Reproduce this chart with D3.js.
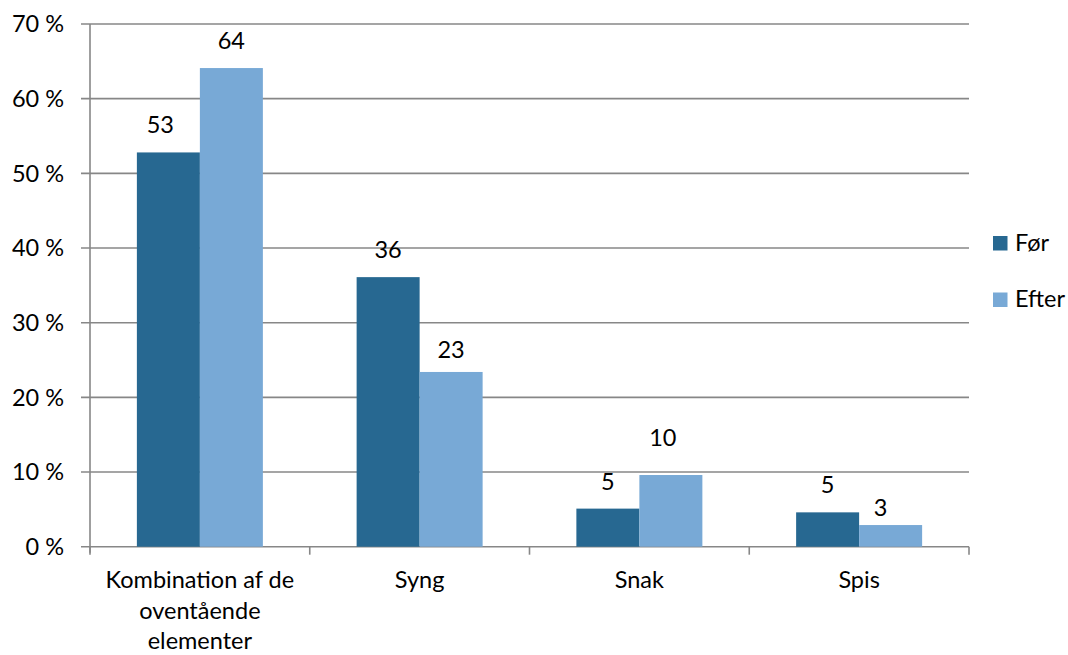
<!DOCTYPE html>
<html><head><meta charset="utf-8">
<script src="https://cdn.jsdelivr.net/npm/d3@7"></script>
<style>
html,body{margin:0;padding:0;background:#fff;}
svg text{font-family:Lato,"Noto Sans",sans-serif;fill:#000;}
</style></head>
<body>
<svg id="c" width="1068" height="655"></svg>
<script>
const categories = ["Kombination af de oventående elementer", "Syng", "Snak", "Spis"];
const categoryLines = [["Kombination af de", "oventående", "elementer"], ["Syng"], ["Snak"], ["Spis"]];
const seriesNames = ["Før", "Efter"];
const forValues = [52.8, 36.1, 5.1, 4.6];
const efterValues = [64.1, 23.4, 9.6, 2.9];
const yTicks = [0, 10, 20, 30, 40, 50, 60, 70];
const yTickLabels = ["0 %", "10 %", "20 %", "30 %", "40 %", "50 %", "60 %", "70 %"];

// label nudges (layout only): [dx, dy] per series per category
const nudgeFor = [[-8, 0], [0, 0], [0, 0], [0, 0]];
const nudgeEfter = [[0, 0], [0, 5], [-8, -10], [-10, 9.5]];

const colors = {"Før": "#276891", "Efter": "#78A9D6"};
const FS = 23.5;

const svg = d3.select("#c");
const L = 90, R = 969, T = 24, B = 546.7;

const x0 = d3.scaleBand().domain(categories).range([L, R]).paddingInner(0).paddingOuter(0);
const groupW = 126;
const x1 = d3.scaleBand().domain(seriesNames).range([0, groupW]);
const y = d3.scaleLinear().domain([0, 70]).range([B, T]);

// gridlines
svg.append("g").selectAll("line").data(yTicks).join("line")
  .attr("x1", L - 9).attr("x2", R)
  .attr("y1", d => y(d)).attr("y2", d => y(d))
  .attr("stroke", "#878787").attr("stroke-width", 1.6);

// y axis line
svg.append("line").attr("x1", L).attr("x2", L).attr("y1", T).attr("y2", B + 6)
  .attr("stroke", "#878787").attr("stroke-width", 1.6);

// category boundary ticks
const bounds = categories.map(c => x0(c)).concat([R]);
svg.append("g").selectAll("line").data(bounds).join("line")
  .attr("x1", d => d).attr("x2", d => d).attr("y1", B).attr("y2", B + 8)
  .attr("stroke", "#878787").attr("stroke-width", 1.6);

// y tick labels
svg.append("g").selectAll("text").data(yTicks).join("text")
  .attr("x", 64).attr("y", d => y(d) + 8.3)
  .attr("text-anchor", "end").attr("font-size", FS)
  .text((d, i) => yTickLabels[i]);

// bars
const rows = categories.map((c, i) => ({c, i, vals: [forValues[i], efterValues[i]]}));
const gx = c => x0(c) + (x0.bandwidth() - groupW) / 2;
const grp = svg.append("g").selectAll("g").data(rows).join("g")
  .attr("transform", d => `translate(${gx(d.c)},0)`);
grp.selectAll("rect").data(d => seriesNames.map((s, k) => ({s, v: d.vals[k], i: d.i}))).join("rect")
  .attr("x", d => x1(d.s)).attr("width", x1.bandwidth())
  .attr("y", d => y(d.v)).attr("height", d => B - y(d.v))
  .attr("fill", d => colors[d.s]);
grp.selectAll("text").data(d => seriesNames.map((s, k) => ({s, v: d.vals[k], i: d.i}))).join("text")
  .attr("x", d => x1(d.s) + x1.bandwidth() / 2 + (d.s === "Før" ? nudgeFor : nudgeEfter)[d.i][0])
  .attr("y", d => y(d.v) - 19 + (d.s === "Før" ? nudgeFor : nudgeEfter)[d.i][1])
  .attr("text-anchor", "middle").attr("font-size", FS)
  .text(d => d3.format(".0f")(d.v));

// category labels
const cl = svg.append("g").selectAll("text").data(categories).join("text")
  .attr("x", c => x0(c) + x0.bandwidth() / 2)
  .attr("y", 588)
  .attr("text-anchor", "middle").attr("font-size", FS);
cl.selectAll("tspan").data((c, i) => categoryLines[i]).join("tspan")
  .attr("x", function(){ return d3.select(this.parentNode).attr("x"); })
  .attr("dy", (d, i) => i === 0 ? 0 : 30.5)
  .text(d => d);

// legend
const lg = svg.append("g").selectAll("g").data(seriesNames).join("g")
  .attr("transform", (d, i) => `translate(993,${236 + i * 56.5})`);
lg.append("rect").attr("width", 14.5).attr("height", 14.5).attr("fill", d => colors[d]);
lg.append("text").attr("x", 22).attr("y", 14.5).attr("font-size", FS).text(d => d);
</script>
</body></html>
